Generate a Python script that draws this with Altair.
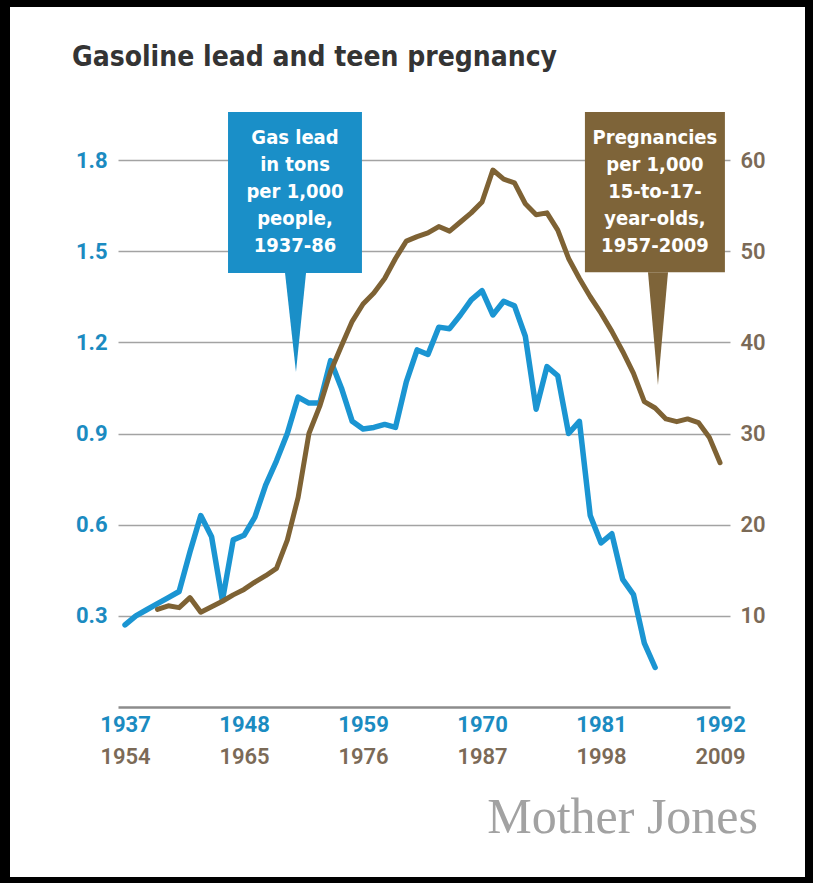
import altair as alt
import pandas as pd

# ---- data -------------------------------------------------------------
# Gasoline lead, tons per 1,000 people, 1937-1986
lead_years = list(range(1937, 1987))
lead_tons = [0.27, 0.30, 0.32, 0.34, 0.36, 0.38, 0.51, 0.63, 0.56, 0.35,
             0.55, 0.565, 0.625, 0.73, 0.81, 0.90, 1.02, 1.00, 1.00, 1.14,
             1.05, 0.94, 0.915, 0.92, 0.93, 0.92, 1.07, 1.175, 1.16, 1.25,
             1.245, 1.29, 1.34, 1.37, 1.29, 1.335, 1.32, 1.22, 0.98, 1.12,
             1.09, 0.90, 0.94, 0.63, 0.54, 0.57, 0.42, 0.37, 0.21, 0.13]

# Pregnancies per 1,000 girls aged 15-17, 1957-2009
preg_years = list(range(1957, 2010))
preg_rate = [10.7, 11.1, 10.9, 12.0, 10.4, 11.0, 11.6, 12.3, 12.9, 13.7,
             14.4, 15.2, 18.3, 23.0, 30.0, 33.0, 36.8, 39.6, 42.3, 44.2,
             45.4, 47.0, 49.2, 51.1, 51.6, 52.0, 52.7, 52.2, 53.2, 54.2,
             55.4, 58.9, 57.9, 57.5, 55.2, 54.0, 54.2, 52.3, 49.2, 47.0,
             45.0, 43.2, 41.2, 39.0, 36.6, 33.5, 32.8, 31.6, 31.3, 31.6,
             31.2, 29.6, 26.8]

# axis tick labels (the pregnancy years run 17 years after the lead years)
lead_ticks = [1937, 1948, 1959, 1970, 1981, 1992]
preg_ticks = [1954, 1965, 1976, 1987, 1998, 2009]
lead_levels = [0.3, 0.6, 0.9, 1.2, 1.5, 1.8]
preg_levels = [10, 20, 30, 40, 50, 60]

lead_label = "Gas lead\nin tons\nper 1,000\npeople,\n1937-86"
preg_label = "Pregnancies\nper 1,000\n15-to-17-\nyear-olds,\n1957-2009"

# ---- styling ------------------------------------------------------------
LINE_BLUE = "#1b95d2"
BOX_BLUE = "#1a8fc8"
TEXT_BLUE = "#1b8bc1"
LINE_BROWN = "#7e6234"
BOX_BROWN = "#7e6439"
TEXT_BROWN = "#7b6a57"
GRID = "#a3a3a3"
SANS = "Roboto"
COND = "DejaVu Sans Condensed, Liberation Sans Narrow, Roboto"

W, H = 612, 547

x_lead = alt.Scale(domain=[1936.35, 1992.92], nice=False, zero=False)
x_preg = alt.Scale(domain=[1953.35, 2009.92], nice=False, zero=False)
y_lead = alt.Scale(domain=[0, 1.8], nice=False)
y_preg = alt.Scale(domain=[0, 60], nice=False)

lead_df = pd.DataFrame({"year": lead_years, "tons": lead_tons})
preg_df = pd.DataFrame({"year": preg_years, "rate": preg_rate})

# callout boxes, placed in the lead chart's units (year, tons);
# ty is the centre of the first text line
callouts = pd.DataFrame([
    {"name": "lead", "label": lead_label, "x0": 1946.52, "x1": 1958.90,
     "top": 1.958, "bottom": 1.428, "tx": 1952.71, "ty": 1.874,
     "px0": 1951.79, "ptip": 1952.80, "px1": 1953.73, "ptip_y": 1.102},
    {"name": "preg", "label": preg_label, "x0": 1979.51, "x1": 1992.45,
     "top": 1.958, "bottom": 1.431, "tx": 1985.98, "ty": 1.874,
     "px0": 1985.34, "ptip": 1986.26, "px1": 1987.19, "ptip_y": 1.060},
])
box_colors = {"lead": BOX_BLUE, "preg": BOX_BROWN}

pointer_rows = []
for _, c in callouts.iterrows():
    pointer_rows += [
        {"name": c["name"], "x": c["px0"], "y": c["bottom"], "base": c["bottom"]},
        {"name": c["name"], "x": c["ptip"], "y": c["ptip_y"], "base": c["bottom"]},
        {"name": c["name"], "x": c["px1"], "y": c["bottom"], "base": c["bottom"]},
    ]
pointers = pd.DataFrame(pointer_rows)

box_color = alt.Color(
    "name:N", legend=None,
    scale=alt.Scale(domain=list(box_colors), range=list(box_colors.values())),
)

# black frame around the whole graphic
frame = alt.Chart(pd.DataFrame({"k": [0]})).mark_rect(
    fillOpacity=0, stroke="black", strokeWidth=16
).encode(
    x=alt.value(-116), x2=alt.value(695), y=alt.value(-161), y2=alt.value(725)
)

boxes = alt.Chart(callouts).mark_rect().encode(
    x=alt.X("x0:Q", scale=x_lead, axis=None),
    x2="x1:Q",
    y=alt.Y("top:Q", scale=y_lead, axis=None),
    y2="bottom:Q",
    color=box_color,
)

tails = alt.Chart(pointers).mark_area().encode(
    x=alt.X("x:Q", scale=x_lead, axis=None),
    y=alt.Y("y:Q", scale=y_lead, axis=None),
    y2="base:Q",
    color=box_color,
    detail="name:N",
)

box_text = alt.Chart(callouts).mark_text(
    lineBreak="\n", lineHeight=27, font=COND, fontSize=20,
    fontWeight="bold", color="white", align="center", baseline="middle",
).encode(
    x=alt.X("tx:Q", scale=x_lead, axis=None),
    y=alt.Y("ty:Q", scale=y_lead, axis=None),
    text="label:N",
)

lead_line = alt.Chart(lead_df).mark_line(
    color=LINE_BLUE, strokeWidth=5.5, strokeJoin="round", strokeCap="round"
).encode(
    x=alt.X("year:Q", scale=x_lead, axis=alt.Axis(
        orient="bottom", values=lead_ticks, format="d", title=None,
        labelColor=TEXT_BLUE, labelFont=SANS, labelFontSize=22,
        labelFontWeight="bold", labelPadding=7, labelFlush=False,
        labelOverlap=False, ticks=False, grid=False,
        domainColor="#8c8c8c", domainWidth=2.5)),
    y=alt.Y("tons:Q", scale=y_lead, axis=alt.Axis(
        orient="left", values=lead_levels, format=".1f", title=None,
        labelColor=TEXT_BLUE, labelFont=SANS, labelFontSize=22,
        labelFontWeight="bold", labelPadding=11, ticks=False,
        domain=False, grid=True, gridColor=GRID, gridWidth=1.6)),
)

preg_line = alt.Chart(preg_df).mark_line(
    color=LINE_BROWN, strokeWidth=5, strokeJoin="round", strokeCap="round"
).encode(
    x=alt.X("year:Q", scale=x_preg, axis=alt.Axis(
        orient="bottom", values=preg_ticks, format="d", title=None,
        labelColor=TEXT_BROWN, labelFont=SANS, labelFontSize=22,
        labelFontWeight=600, labelPadding=39, labelFlush=False,
        labelOverlap=False, ticks=False, grid=False, domain=False)),
    y=alt.Y("rate:Q", scale=y_preg, axis=alt.Axis(
        orient="right", values=preg_levels, format="d", title=None,
        labelColor=TEXT_BROWN, labelFont=SANS, labelFontSize=22,
        labelFontWeight=600, labelPadding=10, ticks=False,
        domain=False, grid=False)),
)

credit = alt.Chart(pd.DataFrame({"t": ["Mother Jones"]})).mark_text(
    align="right", baseline="alphabetic", font="Liberation Serif",
    fontSize=50, color="#a2a2a2",
).encode(x=alt.value(640), y=alt.value(673), text="t:N")

chart = alt.layer(
    frame, boxes, tails, box_text, lead_line, preg_line, credit
).resolve_scale(
    x="independent", y="independent"
).properties(
    width=W, height=H,
    title=alt.TitleParams(
        "Gasoline lead and teen pregnancy", anchor="start", frame="group",
        orient="top", baseline="alphabetic", offset=-103, dx=-46,
        font=COND, fontSize=28, fontWeight="bold", color="#343434"),
    autosize=alt.AutoSizeParams(type="none"),
    padding={"left": 118, "top": 160, "right": 83, "bottom": 176},
    background="white",
).configure_view(stroke=None)

chart.save("out.html", embed_options={"renderer": "svg", "actions": False})
